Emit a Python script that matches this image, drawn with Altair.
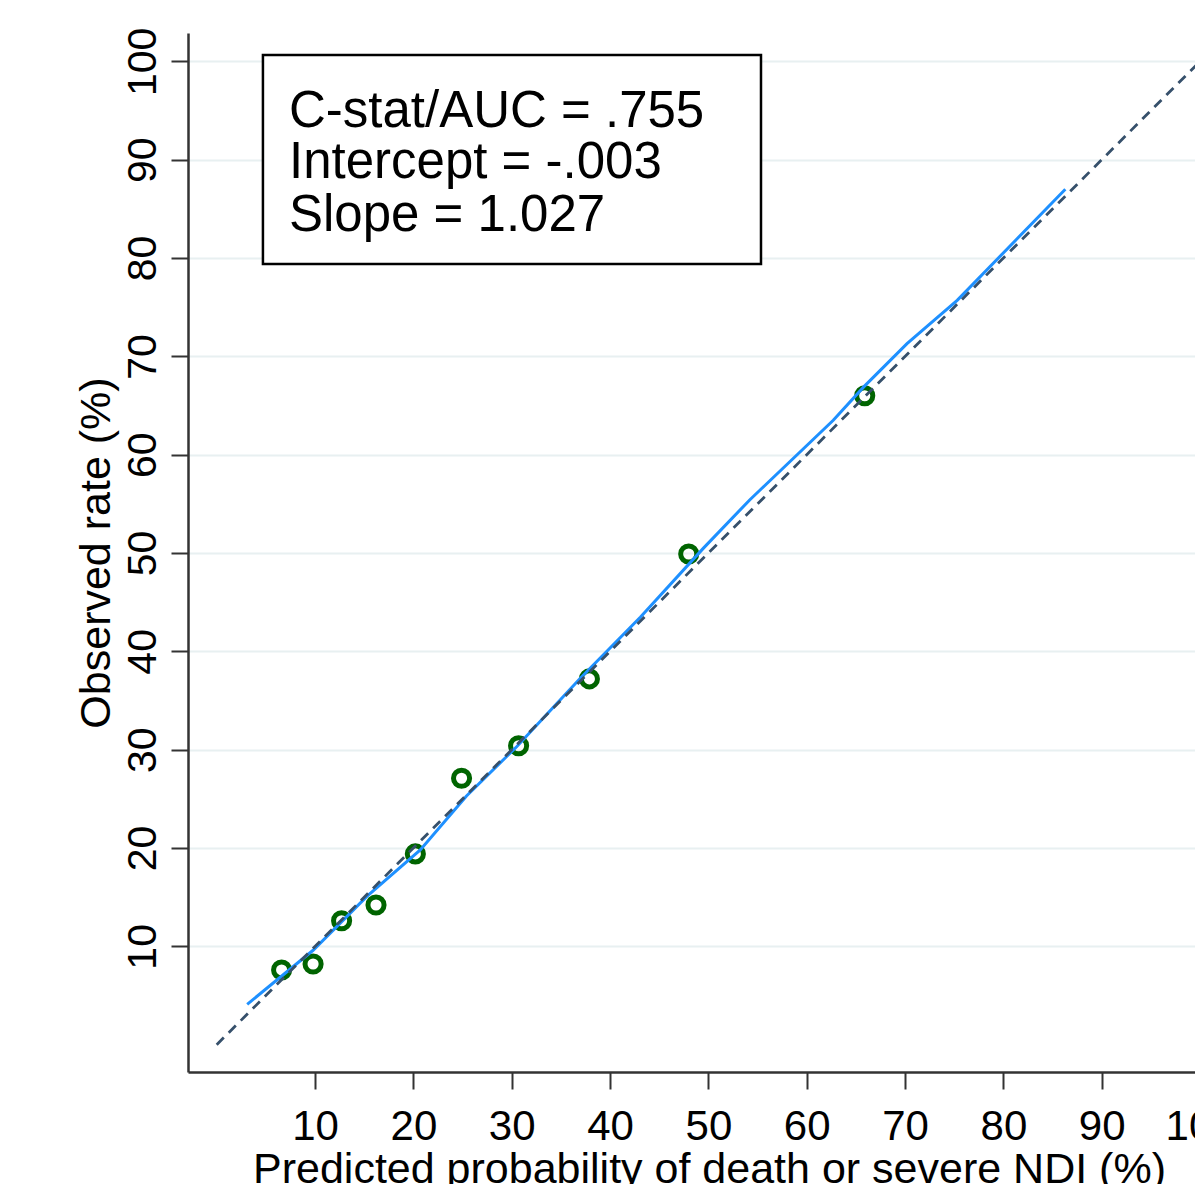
import altair as alt
import pandas as pd

# ---- data ----
pred = [6.6, 9.8, 12.7, 16.2, 20.2, 24.9, 30.7, 37.9, 48.0, 65.9]
obs = [7.6, 8.2, 12.6, 14.2, 19.4, 27.1, 30.4, 37.2, 49.9, 66.0]

lowess_x = [3.1, 9.8, 15.3, 20.7, 25.4, 30.5, 37.0, 43.1, 49.5, 54.2, 62.7, 65.8, 70.2, 75.3, 86.3]
lowess_y = [4.1, 9.6, 15.1, 19.8, 25.3, 30.3, 37.3, 43.5, 50.5, 55.4, 63.5, 66.9, 71.3, 75.7, 87.0]

ref_x = [0, 100]
ref_y = [0, 100]

box_lines = ["C-stat/AUC = .755", "Intercept = -.003", "Slope = 1.027"]
box_line_y = [93.3, 88.1, 82.8]
box_text_x = [7.35, 7.35, 7.35]
box_x = [4.7]
box_x2 = [55.35]
box_y = [79.4]
box_y2 = [100.65]

x_ticks = [10, 20, 30, 40, 50, 60, 70, 80, 90, 100]
y_ticks = [10, 20, 30, 40, 50, 60, 70, 80, 90, 100]

x_title = "Predicted probability of death or severe NDI (%)"
y_title = "Observed rate (%)"

FONT = "Liberation Sans"
AX = "#333333"

pts = pd.DataFrame({"x": pred, "y": obs})
low = pd.DataFrame({"x": lowess_x, "y": lowess_y})
ref = pd.DataFrame({"x": ref_x, "y": ref_y})
box = pd.DataFrame({"x": box_x, "x2": box_x2, "y": box_y, "y2": box_y2})
txt = pd.DataFrame({"x": box_text_x, "y": box_line_y, "t": box_lines})

xs = alt.Scale(domain=[-2.92, 100.3], nice=False, zero=False)
ys = alt.Scale(domain=[-2.78, 102.89], nice=False, zero=False)

x_axis = alt.Axis(
    values=x_ticks, title=x_title, grid=False,
    labelFont=FONT, labelFontSize=42, labelColor="black",
    labelBaseline="alphabetic", labelPadding=50, labelFlush=False, labelOverlap=False,
    tickSize=17, tickWidth=2, tickColor=AX, domainColor=AX, domainWidth=2.5,
    titleFont=FONT, titleFontSize=43, titleFontWeight="normal", titleColor="black",
    titleBaseline="alphabetic", titleAlign="center", titleX=521, titleY=110,
)
y_axis = alt.Axis(
    values=y_ticks, title=y_title, grid=True, gridColor="#E8F0F1", gridWidth=2,
    labelFont=FONT, labelFontSize=41, labelColor="black", labelAngle=270,
    labelAlign="center", labelBaseline="alphabetic", labelPadding=16,
    labelFlush=False, labelOverlap=False,
    tickSize=17, tickWidth=2, tickColor=AX, domainColor=AX, domainWidth=2.5,
    titleFont=FONT, titleFontSize=43, titleFontWeight="normal", titleColor="black",
    titleAngle=270, titleBaseline="alphabetic", titleAlign="center",
    titleX=-79, titleY=519.5,
)

X = alt.X("x:Q", scale=xs, axis=x_axis)
Y = alt.Y("y:Q", scale=ys, axis=y_axis)

points = alt.Chart(pts).mark_point(
    shape="circle", filled=False, size=260, strokeWidth=5, color="#006400", opacity=1
).encode(x=X, y=Y)

lowess = alt.Chart(low).mark_line(color="#1E90FF", strokeWidth=3).encode(x=X, y=Y)

refline = alt.Chart(ref).mark_line(
    color="#36506B", strokeWidth=2.8, strokeDash=[10, 7]
).encode(x=X, y=Y)

rect = alt.Chart(box).mark_rect(
    fill="white", stroke="black", strokeWidth=2.5
).encode(x=X, x2="x2:Q", y=Y, y2="y2:Q")

text = alt.Chart(txt).mark_text(
    align="left", baseline="alphabetic", font=FONT, fontSize=51, color="black"
).encode(x=X, y=Y, text="t:N")

chart = alt.layer(points, lowess, refline, rect, text).properties(
    width=1015, height=1039,
    autosize=alt.AutoSizeParams(type="none"),
    padding={"left": 180, "top": 25, "right": -8, "bottom": 112},
    background="white",
).configure_view(stroke=None)

chart.save("out.html", embed_options={"renderer": "svg", "actions": False})
